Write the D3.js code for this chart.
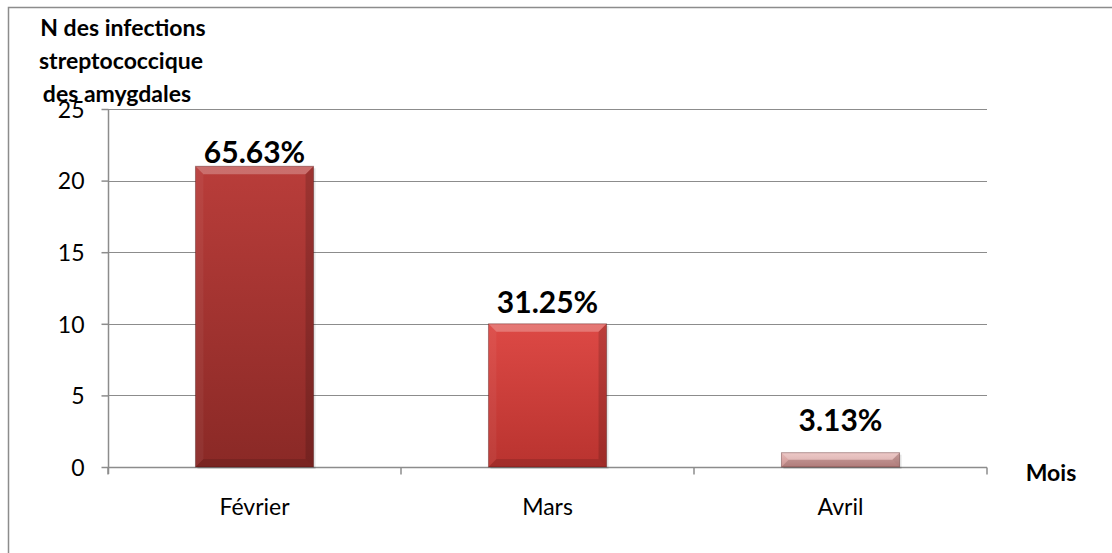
<!DOCTYPE html>
<html>
<head>
<meta charset="utf-8">
<script src="https://cdn.jsdelivr.net/npm/d3@7"></script>
<style>
  html, body { margin: 0; padding: 0; background: #fff; }
  svg { display: block; font-family: Lato, "Open Sans", sans-serif; }
</style>
</head>
<body>
<svg id="chart" width="1112" height="553"></svg>
<script>
// Monthly count of streptococcal tonsil infections
const months = ["Février", "Mars", "Avril"];
const counts = [21, 10, 1];
const percentLabels = ["65.63%", "31.25%", "3.13%"];
const yTicks = [0, 5, 10, 15, 20, 25];
const yTitleLines = ["N des infections", "streptococcique", "des amygdales"];
const xTitle = "Mois";

// bar fill: [top, bottom] gradient stops
const barColors = [
  ["#b93d3a", "#8a2926"],
  ["#dd4945", "#b9332f"],
  ["#e6b6b4", "#c98e8c"]
];
// gap between each percent label and its bar top
const labelGap = [3, 11, 22];

const svg = d3.select("#chart");
const plot = { left: 108, right: 987, top: 109, bottom: 467 };
const FONT = "Lato, 'Open Sans', sans-serif";

// outer frame
svg.append("path")
  .attr("d", "M8.5,553 L8.5,7.5 L1112,7.5")
  .attr("fill", "none").attr("stroke", "#8c8c8c").attr("stroke-width", 1.5);

const x = d3.scaleBand().domain(months).range([plot.left, plot.right]).paddingInner(0).paddingOuter(0);
const y = d3.scaleLinear().domain([0, 25]).range([plot.bottom, plot.top]);

// horizontal gridlines
svg.append("g").selectAll("line").data(yTicks.filter(d => d > 0)).join("line")
  .attr("x1", plot.left).attr("x2", plot.right)
  .attr("y1", d => Math.round(y(d)) + 0.5).attr("y2", d => Math.round(y(d)) + 0.5)
  .attr("stroke", "#8c8c8c").attr("stroke-width", 1.2);

// y axis
const yAxis = svg.append("g").attr("transform", `translate(${plot.left + 0.5},0)`)
  .call(d3.axisLeft(y).tickValues(yTicks).tickSize(7).tickPadding(17).tickFormat(d3.format("d")));
yAxis.select(".domain").attr("stroke", "#8c8c8c").attr("stroke-width", 1.5)
  .attr("d", `M0,${plot.top}V${plot.bottom + 7}`);
yAxis.selectAll(".tick line").attr("stroke", "#8c8c8c").attr("stroke-width", 1.5);
yAxis.selectAll(".tick text").attr("font-size", 23).attr("fill", "#000")
  .attr("font-family", FONT).attr("dy", "0.36em");

// x axis
const xAxis = svg.append("g").attr("transform", `translate(0,${plot.bottom + 0.5})`)
  .call(d3.axisBottom(x).tickSize(0).tickPadding(31));
xAxis.select(".domain").attr("stroke", "#8c8c8c").attr("stroke-width", 1.5)
  .attr("d", `M${plot.left},0H${plot.right}`);
xAxis.selectAll(".tick text").attr("font-size", 23).attr("fill", "#000")
  .attr("font-family", FONT);
// category boundary ticks
const bounds = months.map(m => x(m)).concat([x(months[months.length - 1]) + x.bandwidth()]);
xAxis.append("g").selectAll("line").data(bounds).join("line")
  .attr("x1", d => d).attr("x2", d => d).attr("y1", 0).attr("y2", 7)
  .attr("stroke", "#8c8c8c").attr("stroke-width", 1.5);

// gradients
const defs = svg.append("defs");
barColors.forEach((c, i) => {
  const g = defs.append("linearGradient").attr("id", "bar" + i)
    .attr("x1", 0).attr("y1", 0).attr("x2", 0).attr("y2", 1);
  g.append("stop").attr("offset", "0%").attr("stop-color", c[0]);
  g.append("stop").attr("offset", "100%").attr("stop-color", c[1]);
});

const barW = x.bandwidth() * 0.403;
const bars = svg.append("g").selectAll("g").data(months).join("g")
  .attr("transform", (d, i) => `translate(${x(d) + (x.bandwidth() - barW) / 2},${y(counts[i])})`);

// soft shadow
bars.append("rect")
  .attr("x", 2).attr("y", 2)
  .attr("width", barW).attr("height", (d, i) => plot.bottom - y(counts[i]))
  .attr("fill", "rgba(0,0,0,0.10)");

bars.append("rect")
  .attr("width", barW).attr("height", (d, i) => plot.bottom - y(counts[i]))
  .attr("fill", (d, i) => `url(#bar${i})`);

// bevel edges
const bev = 8;
bars.each(function(d, i) {
  const h = plot.bottom - y(counts[i]);
  const b = Math.min(bev, h / 2);
  const g = d3.select(this);
  // top
  g.append("path").attr("d", `M0,0 L${barW},0 L${barW - b},${b} L${b},${b} Z`)
    .attr("fill", "rgba(255,255,255,0.26)");
  // left
  g.append("path").attr("d", `M0,0 L${b},${b} L${b},${h - b} L0,${h} Z`)
    .attr("fill", "rgba(255,255,255,0.05)");
  // right
  g.append("path").attr("d", `M${barW},0 L${barW},${h} L${barW - b},${h - b} L${barW - b},${b} Z`)
    .attr("fill", "rgba(0,0,0,0.15)");
  // bottom
  g.append("path").attr("d", `M0,${h} L${b},${h - b} L${barW - b},${h - b} L${barW},${h} Z`)
    .attr("fill", "rgba(0,0,0,0.12)");
  g.append("rect").attr("width", barW).attr("height", h)
    .attr("fill", "none").attr("stroke", "rgba(60,10,10,0.35)").attr("stroke-width", 1);
});

// value labels
svg.append("g").selectAll("text").data(months).join("text")
  .attr("x", d => x(d) + x.bandwidth() / 2)
  .attr("y", (d, i) => y(counts[i]) - labelGap[i])
  .attr("text-anchor", "middle")
  .attr("font-size", 30).attr("font-weight", "bold").attr("fill", "#000")
  .text((d, i) => percentLabels[i]);

// y axis title
svg.append("g").selectAll("text").data(yTitleLines).join("text")
  .attr("x", (d, i) => [123, 121, 117][i]).attr("y", (d, i) => 36 + i * 33)
  .attr("text-anchor", "middle")
  .attr("font-size", 23).attr("font-weight", "bold").attr("fill", "#000")
  .text(d => d);

// x axis title
svg.append("text")
  .attr("x", 1051).attr("y", 481)
  .attr("text-anchor", "middle")
  .attr("font-size", 23).attr("font-weight", "bold").attr("fill", "#000")
  .text(xTitle);
</script>
</body>
</html>
